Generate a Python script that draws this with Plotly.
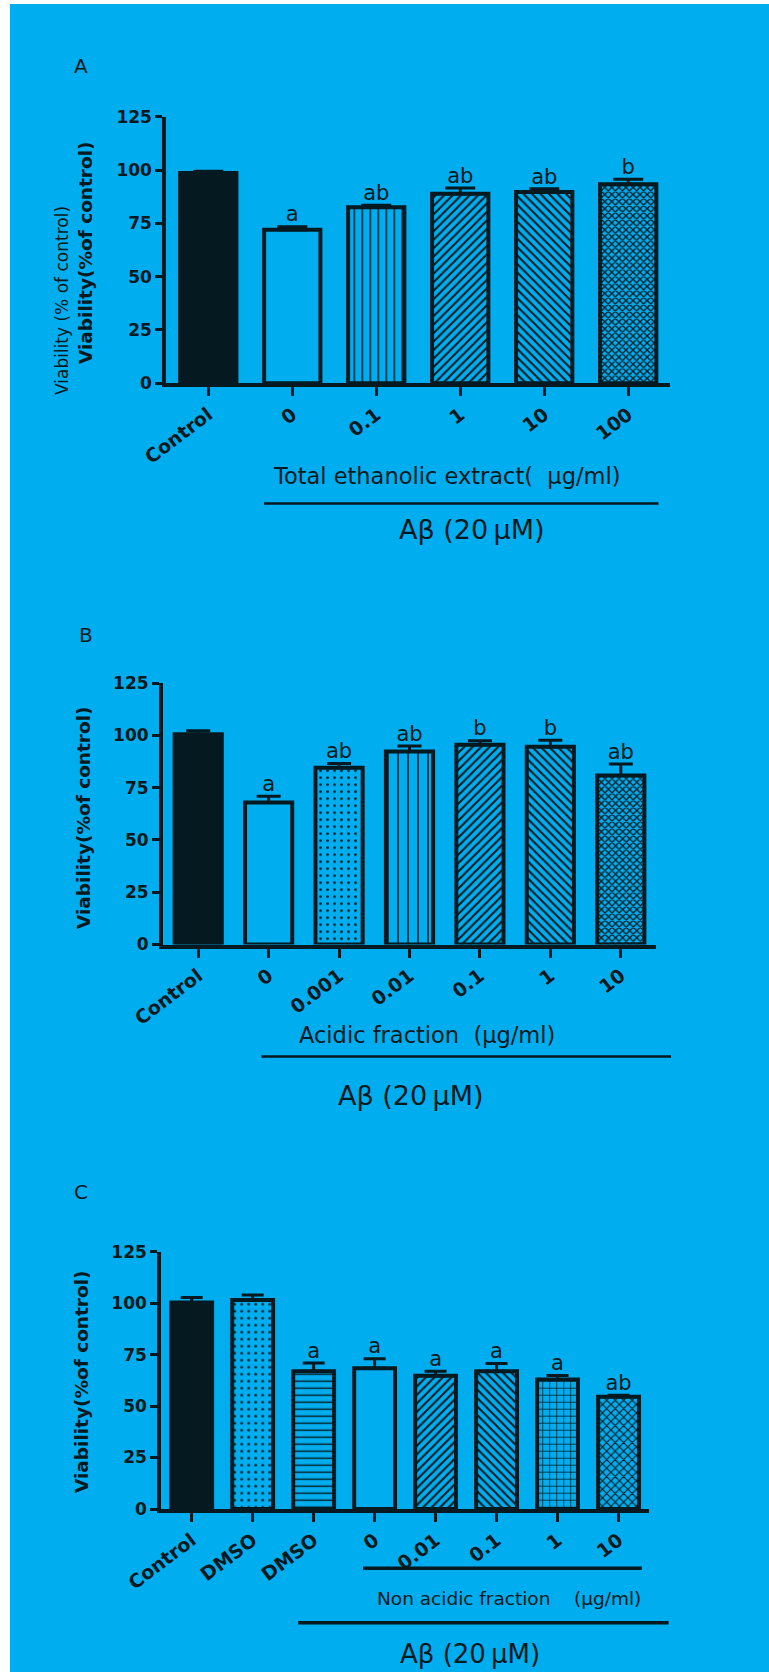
import plotly.graph_objects as go

W, H = 769, 1672
BG = "#00ADEF"
DARK = "#051a20"
FONT = "DejaVu Sans"

# ---------------- data ----------------
a_labels = ["Control", "0", "0.1", "1", "10", "100"]
a_values = [98.6, 72.0, 82.5, 88.9, 89.7, 93.3]
a_errors = [0.8, 1.4, 1.0, 2.7, 1.5, 2.4]
a_letters = ["", "a", "ab", "ab", "ab", "b"]

b_labels = ["Control", "0", "0.001", "0.01", "0.1", "1", "10"]
b_values = [100.6, 67.9, 84.5, 92.3, 95.5, 94.6, 80.9]
b_errors = [1.6, 3.0, 2.1, 2.7, 2.0, 3.1, 5.4]
b_letters = ["", "a", "ab", "ab", "b", "b", "ab"]

c_labels = ["Control", "DMSO", "DMSO", "0", "0.01", "0.1", "1", "10"]
c_values = [100.3, 101.5, 66.9, 68.4, 64.7, 66.9, 62.9, 54.5]
c_errors = [2.5, 2.5, 4.0, 4.6, 2.2, 3.8, 2.0, 0.8]
c_letters = ["", "", "a", "a", "a", "a", "a", "ab"]

y_ticks = [0, 25, 50, 75, 100, 125]

# ---------------- styles ----------------
SOLID, EMPTY = DARK, "rgba(0,0,0,0)"
panels = [
    dict(labels=a_labels, values=a_values, errors=a_errors, letters=a_letters,
         xpx=(166.3, 670.2), ypx=(116.7, 383.3), capw=15,
         colors=[SOLID, EMPTY, SOLID, SOLID, SOLID, SOLID],
         shapes=["", "", "|", "/", "\\", "x"],
         sizes=[8, 8, 8, 6, 6, 5],
         sols=[0.3, 0.3, 0.18, 0.35, 0.35, 0.45]),
    dict(labels=b_labels, values=b_values, errors=b_errors, letters=b_letters,
         xpx=(163.0, 656.0), ypx=(683.2, 944.5), capw=12,
         colors=[SOLID, EMPTY, SOLID, SOLID, SOLID, SOLID, SOLID],
         shapes=["", "", ".", "|", "/", "\\", "x"],
         sizes=[8, 8, 7, 10, 6, 6, 5],
         sols=[0.3, 0.3, 0.12, 0.15, 0.35, 0.35, 0.45]),
    dict(labels=c_labels, values=c_values, errors=c_errors, letters=c_letters,
         xpx=(161.2, 649.0), ypx=(1251.7, 1509.0), capw=11,
         colors=[SOLID, SOLID, SOLID, EMPTY, SOLID, SOLID, SOLID, SOLID],
         shapes=["", ".", "-", "", "/", "\\", "+", "x"],
         sizes=[8, 7, 7, 8, 6, 6, 7, 6],
         sols=[0.3, 0.12, 0.2, 0.3, 0.35, 0.35, 0.2, 0.35]),
]


def fx(px):
    return px / W


def fy(py):
    return 1 - py / H


fig = go.Figure()
layout = {}
for k, p in enumerate(panels, start=1):
    n = len(p["labels"])
    idx = list(range(n))
    xa = "x" if k == 1 else f"x{k}"
    ya = "y" if k == 1 else f"y{k}"
    fig.add_trace(go.Bar(
        x=idx, y=p["values"], width=0.67, xaxis=xa, yaxis=ya,
        marker=dict(color=p["colors"], line=dict(color=DARK, width=4),
                    pattern=dict(shape=p["shapes"], size=p["sizes"],
                                 solidity=p["sols"], fillmode="replace")),
        error_y=dict(type="data", array=p["errors"], arrayminus=[0] * n,
                     symmetric=False, color=DARK, thickness=3, width=p["capw"]),
        hoverinfo="skip", showlegend=False))
    fig.add_trace(go.Scatter(
        x=idx, y=[v + e for v, e in zip(p["values"], p["errors"])],
        mode="text", text=p["letters"], textposition="top center",
        textfont=dict(family=FONT, size=21, color=DARK),
        xaxis=xa, yaxis=ya, cliponaxis=False, hoverinfo="skip", showlegend=False))
    xkey = "xaxis" if k == 1 else f"xaxis{k}"
    ykey = "yaxis" if k == 1 else f"yaxis{k}"
    layout[xkey] = dict(
        domain=[fx(p["xpx"][0]), fx(p["xpx"][1])], range=[-0.5, n - 0.5],
        anchor=ya, tickmode="array", tickvals=idx, ticktext=p["labels"],
        tickangle=-37, ticks="outside", ticklen=9, tickwidth=3, tickcolor=DARK,
        showline=True, linecolor=DARK, linewidth=4, showgrid=False, zeroline=False,
        automargin=False,
        tickfont=dict(family=FONT, size=19, color=DARK, weight="bold"), fixedrange=True)
    layout[ykey] = dict(
        domain=[fy(p["ypx"][1]), fy(p["ypx"][0])], range=[0, 125],
        anchor=xa, tickmode="array", tickvals=y_ticks,
        ticks="outside", ticklen=7, tickwidth=3, tickcolor=DARK,
        showline=True, linecolor=DARK, linewidth=4, showgrid=False, zeroline=False,
        automargin=False,
        tickfont=dict(family=FONT, size=17, color=DARK, weight="bold"), fixedrange=True)

annotations = []


def txt(text, x, y, size, bold=False, angle=0):
    annotations.append(dict(
        text=text, x=fx(x), y=fy(y), xref="paper", yref="paper",
        xanchor="center", yanchor="middle", showarrow=False, textangle=angle,
        font=dict(family=FONT, size=size, color=DARK,
                  weight="bold" if bold else "normal")))


AB = "Aβ (20\u2009µM)"
# panel letters
txt("A", 81, 66, 20)
txt("B", 86, 635, 20)
txt("C", 81, 1192, 20)
# y titles
txt("Viability (% of control)", 62, 301, 17, angle=-90)
txt("Viability(%of control)", 86, 253, 18.5, bold=True, angle=-90)
txt("Viability(%of control)", 83, 818, 18.5, bold=True, angle=-90)
txt("Viability(%of control)", 81, 1382, 18.5, bold=True, angle=-90)
# group labels
txt("Total ethanolic extract(  µg/ml)", 447, 476, 22.5)
txt(AB, 472, 529, 27)
txt("Acidic fraction  (µg/ml)", 427, 1035, 22.5)
txt(AB, 411, 1095, 27)
txt("Non acidic fraction    (µg/ml)", 509, 1598, 18.5)
txt(AB, 470, 1654, 26)

shapes = [
    dict(type="rect", xref="paper", yref="paper", x0=0, x1=fx(10), y0=0, y1=1,
         fillcolor="white", line=dict(width=0), layer="below"),
    dict(type="rect", xref="paper", yref="paper", x0=0, x1=1, y0=fy(4), y1=1,
         fillcolor="white", line=dict(width=0), layer="below"),
]


def hline(x0, x1, y, w):
    shapes.append(dict(type="line", xref="paper", yref="paper",
                       x0=fx(x0), x1=fx(x1), y0=fy(y), y1=fy(y),
                       line=dict(color=DARK, width=w)))


hline(264, 658.5, 503.5, 2.5)
hline(261.5, 671, 1056.5, 2.5)
hline(363, 641.8, 1568.3, 3.5)
hline(298.2, 668.6, 1622.7, 3.5)

fig.update_layout(
    width=W, height=H, autosize=False,
    margin=dict(l=0, r=0, t=0, b=0, pad=0, autoexpand=False),
    paper_bgcolor=BG, plot_bgcolor="rgba(0,0,0,0)",
    showlegend=False, annotations=annotations, shapes=shapes,
    font=dict(family=FONT, color=DARK),
    **layout)

fig.write_html(
    "out.html",
    config={"displayModeBar": False, "staticPlot": True},
    post_script="document.body.style.margin='0';document.body.style.overflow='hidden';")
